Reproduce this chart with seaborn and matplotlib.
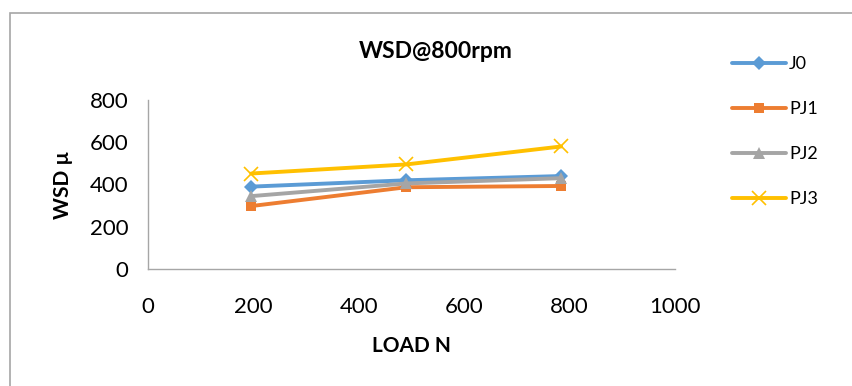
import matplotlib
matplotlib.use("Agg")
import matplotlib.pyplot as plt
from matplotlib.patches import Rectangle
from matplotlib.lines import Line2D
import pandas as pd
import seaborn as sns

# Load values (N) and wear scar diameters (µ) for each blend
loads = [196, 490, 784]
j0 = [390, 420, 440]
pj1 = [298, 387, 393]
pj2 = [345, 405, 430]
pj3 = [452, 495, 580]
series_names = ["J0", "PJ1", "PJ2", "PJ3"]
x_ticks = [0, 200, 400, 600, 800, 1000]
y_ticks = [0, 200, 400, 600, 800]

colors = {"J0": "#5B9BD5", "PJ1": "#ED7D31", "PJ2": "#A5A5A5", "PJ3": "#FFC000"}
markers = {"J0": "D", "PJ1": "s", "PJ2": "^", "PJ3": "x"}
msizes = {"J0": 7.5, "PJ1": 7.5, "PJ2": 8.5, "PJ3": 10}

frames = []
for name, vals in zip(series_names, [j0, pj1, pj2, pj3]):
    frames.append(pd.DataFrame({"LOAD": loads, "WSD": vals, "Series": name}))
df = pd.concat(frames, ignore_index=True)

sns.set_theme(style="white")
plt.rcParams["font.family"] = ["Lato", "DejaVu Sans"]
plt.rcParams["text.color"] = "black"
plt.rcParams["axes.labelcolor"] = "black"

fig = plt.figure(figsize=(8.52, 3.86), dpi=100)
fig.patch.set_facecolor("white")

# chart-area border
fig.add_artist(Rectangle((10 / 852, -0.1), 1.2, 1 - 13 / 386 + 0.1,
                         transform=fig.transFigure, fill=False,
                         edgecolor="#A6A6A6", linewidth=1.2))

ax = fig.add_axes([148 / 852, 1 - 269 / 386, (675 - 148) / 852, (269 - 100) / 386])

for name in series_names:
    sub = df[df["Series"] == name]
    sns.lineplot(data=sub, x="LOAD", y="WSD", ax=ax, color=colors[name],
                 linewidth=2.8, marker=markers[name], markersize=msizes[name],
                 markeredgewidth=1.2 if name == "PJ3" else 0,
                 markeredgecolor=colors[name], label=name, legend=False)

ax.set_xlim(0, 1000)
ax.set_ylim(0, 800)
ax.set_xticks(x_ticks)
ax.set_yticks(y_ticks)
ax.tick_params(axis="both", length=0, labelsize=16, colors="black")
ax.tick_params(axis="x", pad=20)
ax.tick_params(axis="y", pad=14)
for side in ["top", "right"]:
    ax.spines[side].set_visible(False)
for side in ["left", "bottom"]:
    ax.spines[side].set_color("#A6A6A6")
    ax.spines[side].set_linewidth(1.0)
ax.grid(False)
ax.set_xlabel("LOAD N", fontsize=15, fontweight="bold", labelpad=14)
ax.set_ylabel("WSD µ", fontsize=15, fontweight="bold", labelpad=12)

fig.text(436 / 852, 1 - 51 / 386, "WSD@800rpm", ha="center", va="center",
         fontsize=16.5, fontweight="bold")

handles = [Line2D([0], [0], color=colors[n], linewidth=2.8, marker=markers[n],
                  markersize=msizes[n], markeredgewidth=1.2 if n == "PJ3" else 0,
                  markeredgecolor=colors[n]) for n in series_names]
fig.legend(handles, series_names, loc="upper left",
           bbox_to_anchor=(716 / 852, 1 - 40 / 386), frameon=False,
           fontsize=13, handlelength=3.0, handletextpad=0.15, labelspacing=1.6)

fig.savefig("out.png", dpi=100)
